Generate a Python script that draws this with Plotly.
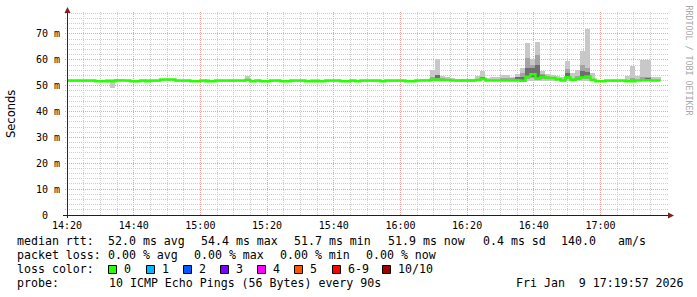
import math
import plotly.graph_objects as go
import pandas as pd

# ---------------- data ----------------
series_start = "2026-01-09 14:19:30"
step_seconds = 90
x_range = ["2026-01-09 14:20:00", "2026-01-09 17:19:57"]

median_ms = [
    52.0, 52.0, 52.0, 52.0, 52.0, 52.0, 51.7, 51.7, 51.7, 51.7,
    52.0, 52.0, 52.0, 51.7, 51.7, 52.0, 51.7, 52.0, 52.0, 52.4,
    52.4, 52.4, 52.0, 52.0, 52.0, 51.7, 51.7, 52.0, 51.7, 51.7,
    52.0, 52.0, 52.0, 52.0, 52.0, 52.0, 52.2, 51.7, 52.0, 51.7,
    51.7, 52.0, 52.0, 51.7, 51.7, 52.0, 52.0, 52.0, 51.7, 51.7,
    51.7, 51.7, 52.0, 52.0, 52.0, 51.7, 51.7, 52.0, 51.7, 52.0,
    52.0, 52.0, 52.0, 51.7, 52.0, 52.0, 52.0, 52.0, 51.7, 51.7,
    52.0, 52.0, 52.0, 52.3, 52.3, 52.2, 52.2, 52.0, 52.0, 52.0,
    52.0, 52.0, 52.2, 52.7, 52.0, 52.0, 52.0, 52.0, 52.0, 52.0,
    52.0, 51.9, 53.5, 54.4, 52.8, 53.5, 53.0, 53.0, 52.5, 52.0,
    53.3, 52.3, 52.7, 53.2, 53.6, 52.3, 51.7, 51.7, 52.0, 52.0,
    52.0, 52.0, 51.7, 51.7, 52.0, 52.1, 52.1, 52.0, 52.0,
]

smoke_min = [
    51.8, 51.8, 51.8, 51.8, 51.8, 51.8, 51.5, 51.5, 51.5, 49.3,
    51.8, 51.8, 51.8, 51.5, 51.5, 51.8, 51.5, 51.8, 51.8, 52.2,
    52.2, 52.2, 51.8, 51.8, 51.8, 51.5, 51.5, 51.8, 51.5, 51.5,
    51.8, 51.8, 51.8, 51.8, 51.8, 51.8, 51.8, 51.5, 51.8, 51.5,
    51.5, 51.8, 51.8, 51.5, 51.5, 51.8, 51.8, 51.8, 51.5, 51.5,
    51.5, 51.5, 51.8, 51.8, 51.8, 51.5, 51.5, 51.8, 51.5, 51.8,
    51.8, 51.8, 51.8, 51.5, 51.8, 51.8, 51.8, 51.8, 51.5, 51.5,
    51.8, 51.8, 51.8, 51.9, 51.9, 51.9, 51.9, 51.8, 51.8, 51.8,
    51.8, 51.8, 51.9, 51.9, 51.8, 51.8, 51.8, 51.8, 51.8, 51.8,
    51.8, 51.5, 51.8, 52.0, 51.8, 51.9, 51.9, 51.9, 51.9, 51.8,
    51.9, 51.9, 51.9, 51.9, 51.9, 51.9, 51.5, 51.5, 51.8, 51.8,
    51.8, 51.8, 51.5, 51.5, 51.8, 51.8, 51.8, 51.8, 51.8,
]

smoke_max = [
    52.2, 52.2, 52.2, 52.2, 52.2, 52.2, 51.9, 51.9, 52.6, 52.6,
    52.6, 52.6, 52.2, 51.9, 51.9, 52.2, 52.5, 52.2, 52.2, 52.6,
    52.6, 52.6, 52.2, 52.2, 52.2, 51.9, 51.9, 52.2, 52.5, 51.9,
    52.2, 52.2, 52.2, 52.2, 52.2, 52.2, 53.8, 51.9, 52.2, 51.9,
    51.9, 52.2, 52.2, 51.9, 51.9, 52.2, 52.2, 52.2, 51.9, 52.5,
    52.5, 51.9, 52.2, 52.2, 52.2, 51.9, 51.9, 52.2, 51.9, 52.2,
    52.2, 52.2, 52.2, 51.9, 52.2, 52.2, 52.2, 52.2, 51.9, 51.9,
    52.2, 52.6, 52.6, 56.0, 60.2, 53.7, 53.2, 52.8, 52.4, 52.4,
    52.4, 52.4, 53.7, 55.8, 53.0, 53.2, 53.5, 54.1, 54.1, 53.2,
    54.4, 56.7, 66.5, 60.3, 67.0, 55.7, 54.5, 54.1, 53.7, 53.3,
    59.6, 54.8, 56.0, 63.3, 71.9, 54.8, 51.9, 51.9, 52.2, 52.2,
    52.2, 52.2, 53.7, 57.7, 53.9, 59.9, 59.9, 53.3, 53.3,
]

mid_steps = [73, 74, 75, 83, 87, 88, 89, 90, 91, 92, 93, 94, 95, 96, 97, 100, 102, 103, 104, 113, 115, 116]
mid_lo = [52.2, 52.2, 52.0, 52.2, 52.0, 52.0, 52.2, 52.2, 51.8, 52.5, 53.0, 52.3, 52.5, 52.5, 52.5, 52.5, 52.3, 52.5, 52.5, 52.0, 52.0, 52.0]
mid_hi = [53.3, 54.0, 53.0, 53.5, 52.8, 52.8, 52.8, 53.5, 54.8, 60.6, 58.0, 61.9, 54.5, 53.8, 53.5, 56.3, 53.8, 58.0, 56.7, 53.0, 53.5, 53.5]

dark_steps = [74, 83, 90, 91, 92, 93, 94, 95, 100, 103, 104, 116]
dark_lo = [52.9, 52.5, 52.4, 52.2, 53.0, 53.5, 53.0, 53.0, 53.0, 53.0, 53.5, 52.2]
dark_hi = [54.0, 53.2, 53.2, 53.5, 56.7, 57.0, 58.0, 54.3, 55.0, 55.7, 55.3, 53.0]

y_tick_vals = [0, 10, 20, 30, 40, 50, 60, 70]
y_tick_text = ["0\u00a0\u00a0", "10 m", "20 m", "30 m", "40 m", "50 m", "60 m", "70 m"]
y_minor_step = 2
y_major_step = 10
x_major_minutes = 20
x_minor_minutes = 5

legend_line1 = [("median rtt:", 16), ("52.0 ms avg", 107), ("54.4 ms max", 200), ("51.7 ms min", 293),
                ("51.9 ms now", 387), ("0.4 ms sd", 482), ("140.0", 560), ("am/s", 617)]
legend_line2 = [("packet loss:", 16), ("0.00 % avg", 107), ("0.00 % max", 193), ("0.00 % min", 279),
                ("0.00 % now", 365)]
loss_labels = ["0", "1", "2", "3", "4", "5", "6-9", "10/10"]
loss_colors = ["#26ff00", "#00b8ff", "#0059ff", "#7e00ff", "#ff00ff", "#ff5500", "#ff0000", "#a10000"]
loss_square_x = [108, 146, 183, 220, 257, 294, 332, 382]
legend_line4 = [("probe:", 16), ("10 ICMP Echo Pings (56 Bytes) every 90s", 108),
                ("Fri Jan  9 17:19:57 2026", 515)]

# ---------------- geometry helpers (pixel -> paper) ----------------
W, H = 697, 297
L, R, T, B = 67, 30, 12, 82
PW, PH = W - L - R, H - T - B
Y_TOP = PH / 2.586


def xp(px):
    return (px - L) / PW


def yp(py):
    return (H - B - py) / PH


MONO = "DejaVu Sans Mono"

t0 = pd.Timestamp(series_start)
n = len(median_ms)
starts = [t0 + pd.Timedelta(seconds=step_seconds * i) for i in range(n)]
centers = [s + pd.Timedelta(seconds=step_seconds / 2) for s in starts]
bar_w = step_seconds * 1000

fig = go.Figure()

fig.add_trace(go.Bar(
    x=centers, base=smoke_min, y=[h - l for h, l in zip(smoke_max, smoke_min)],
    width=bar_w, marker=dict(color="#c8c8c8", line=dict(width=0)), opacity=1,
    hoverinfo="skip", showlegend=False))

fig.add_trace(go.Bar(
    x=[centers[i] for i in mid_steps], base=mid_lo, y=[h - l for h, l in zip(mid_hi, mid_lo)],
    width=bar_w, marker=dict(color="#a4a4a4", line=dict(width=0)), opacity=1,
    hoverinfo="skip", showlegend=False))

fig.add_trace(go.Bar(
    x=[centers[i] for i in dark_steps], base=dark_lo, y=[h - l for h, l in zip(dark_hi, dark_lo)],
    width=bar_w, marker=dict(color="#6e6e6e", line=dict(width=0)), opacity=1,
    hoverinfo="skip", showlegend=False))

fig.add_trace(go.Scatter(
    x=starts + [starts[-1] + pd.Timedelta(seconds=step_seconds)],
    y=median_ms + [median_ms[-1]],
    mode="lines", line=dict(color="#26ff00", width=2.5, shape="hv"),
    hoverinfo="skip", showlegend=False))

fig.update_layout(
    width=W, height=H,
    margin=dict(l=L, r=R, t=T, b=B, pad=0),
    paper_bgcolor="white", plot_bgcolor="white",
    barmode="overlay", bargap=0,
    showlegend=False,
    font=dict(family=MONO, size=10, color="#000000"),
    xaxis=dict(
        type="date", range=x_range,
        tick0="2026-01-09 14:20:00", dtick=x_major_minutes * 60 * 1000, tickformat="%H:%M",
        showgrid=False, showline=False, zeroline=False, ticks="", ticklabelstandoff=3,
        tickfont=dict(family=MONO, size=10, color="#000000"),
        fixedrange=True,
    ),
    yaxis=dict(
        range=[0, Y_TOP],
        tickvals=y_tick_vals, ticktext=y_tick_text,
        showgrid=False, showline=False, zeroline=False, ticks="", ticklabelstandoff=6,
        tickfont=dict(family=MONO, size=10, color="#000000"),
        fixedrange=True,
    ),
)

# ---------------- dotted rrdtool-style grid, pixel aligned ----------------
t_start, t_end = pd.Timestamp(x_range[0]), pd.Timestamp(x_range[1])
span = (t_end - t_start).total_seconds()
MAJOR = "#f0a0a0"
MINOR = "#cdcdcd"
DOT = "1px,1px"

shapes = []
total_minutes = int(span // 60)
for m in range(x_minor_minutes, total_minutes + 1, x_minor_minutes):
    px = L + (m * 60) / span * PW
    c = math.floor(px) + 0.5
    is_major = (m % x_major_minutes) == 0
    shapes.append(dict(type="line", xref="paper", yref="paper", layer="below",
                       x0=xp(c), x1=xp(c), y0=yp(H - B), y1=yp(T),
                       line=dict(color=MAJOR if is_major else MINOR, width=1, dash=DOT)))

for v in range(y_minor_step, int(Y_TOP) + 1, y_minor_step):
    py = (H - B) - v / Y_TOP * PH
    c = math.floor(py) + 0.5
    is_major = (v % y_major_step) == 0
    shapes.append(dict(type="line", xref="paper", yref="paper", layer="below",
                       x0=xp(65), x1=xp(669), y0=yp(c), y1=yp(c),
                       line=dict(color=MAJOR if is_major else MINOR, width=1, dash=DOT)))

# axes lines
shapes.append(dict(type="line", xref="paper", yref="paper", x0=xp(67.5), x1=xp(67.5), y0=yp(218), y1=yp(12),
                   line=dict(color="#3a2424", width=1)))
shapes.append(dict(type="line", xref="paper", yref="paper", x0=xp(63), x1=xp(670), y0=yp(215.5), y1=yp(215.5),
                   line=dict(color="#1f1f1f", width=1)))
# arrows
shapes.append(dict(type="path", xref="paper", yref="paper",
                   path=f"M {xp(64.5)} {yp(13)} L {xp(70.5)} {yp(13)} L {xp(67.5)} {yp(7)} Z",
                   fillcolor="#7f1f1f", line=dict(width=0)))
shapes.append(dict(type="path", xref="paper", yref="paper",
                   path=f"M {xp(668)} {yp(212.5)} L {xp(668)} {yp(218.5)} L {xp(674)} {yp(215.5)} Z",
                   fillcolor="#7f1f1f", line=dict(width=0)))
# loss colour squares
for sx, col in zip(loss_square_x, loss_colors):
    shapes.append(dict(type="rect", xref="paper", yref="paper",
                       x0=xp(sx + 0.5), x1=xp(sx + 8.5), y0=yp(265.5), y1=yp(273.5),
                       fillcolor=col, line=dict(color="#000000", width=1)))
fig.update_layout(shapes=shapes)

annotations = []


def txt(s, px, py, size=11.6, family=MONO, color="#000000", angle=0, xanchor="left"):
    annotations.append(dict(
        text=s.replace(" ", "\u00a0"), x=xp(px), y=yp(py), xref="paper", yref="paper",
        xanchor=xanchor, yanchor="middle", showarrow=False, borderpad=0,
        textangle=angle, font=dict(family=family, size=size, color=color)))


for s, px in legend_line1:
    txt(s, px, 241)
for s, px in legend_line2:
    txt(s, px, 255)
txt("loss color:", 16, 269)
for lab, sx in zip(loss_labels, loss_square_x):
    txt(lab, sx + 15, 269)
for s, px in legend_line4:
    txt(s, px, 283)

txt("Seconds", 11, 114, size=11.5, family="DejaVu Sans", angle=-90, xanchor="center")
txt("RRDTOOL / TOBI OETIKER", 688.5, 60, size=8.3, color="#a8a8a8", angle=90, xanchor="center")

fig.update_layout(annotations=annotations)

fig.write_html("out.html")
